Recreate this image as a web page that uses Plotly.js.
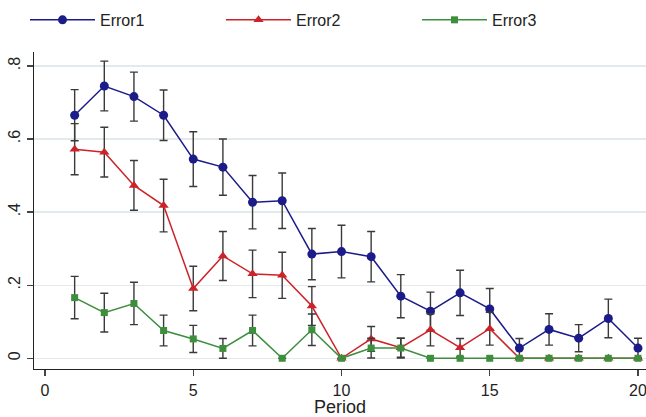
<!DOCTYPE html>
<html>
<head>
<meta charset="utf-8">
<script src="https://cdn.plot.ly/plotly-3.0.1.min.js"></script>
<style>html,body{margin:0;padding:0;background:#fff;overflow:hidden;}#wrap{width:646px;height:417px;overflow:hidden;}#chart{width:666px;height:417px;}</style>
</head>
<body>
<div id="wrap"><div id="chart"></div></div>
<script>
const periods = [1,2,3,4,5,6,7,8,9,10,11,12,13,14,15,16,17,18,19,20];
const error1 = [0.665,0.745,0.716,0.665,0.545,0.523,0.427,0.431,0.285,0.292,0.278,0.170,0.129,0.179,0.135,0.028,0.079,0.055,0.109,0.028];
const error1CI = [0.070,0.068,0.067,0.069,0.075,0.077,0.073,0.076,0.070,0.072,0.069,0.059,0.052,0.062,0.056,0.026,0.043,0.037,0.053,0.027];
const error2 = [0.572,0.564,0.473,0.418,0.191,0.280,0.231,0.227,0.143,0.000,0.053,0.029,0.078,0.029,0.081,0.000,0.000,0.000,0.000,0.000];
const error2CI = [0.070,0.068,0.068,0.072,0.061,0.067,0.065,0.063,0.053,null,0.034,0.026,0.044,0.025,0.045,null,null,null,null,null];
const error3 = [0.166,0.125,0.150,0.076,0.053,0.027,0.076,0.000,0.078,0.000,0.028,0.028,0.000,0.000,0.000,0.000,0.000,0.000,0.000,0.000];
const error3CI = [0.058,0.053,0.058,0.042,0.037,0.027,0.042,null,0.043,null,0.027,0.027,null,null,null,null,null,null,null,null];
const seriesNames = ['Error1','Error2','Error3'];
const xTicks = [0,5,10,15,20];
const yTickVals = [0,0.2,0.4,0.6,0.8];
const yTickText = ['0','.2','.4','.6','.8'];

const errStyle = (arr) => ({type:'data', array:arr, visible:true, color:'#3a3a3a', thickness:1.4, width:4});

const traces = [
  {x:periods, y:error1, name:seriesNames[0], type:'scatter', mode:'lines+markers',
   line:{color:'#1b1b8a', width:1.5}, marker:{symbol:'circle', size:9, color:'#1b1b8a'},
   error_y:errStyle(error1CI)},
  {x:periods, y:error2, name:seriesNames[1], type:'scatter', mode:'lines+markers',
   line:{color:'#cc2229', width:1.5}, marker:{symbol:'triangle-up', size:9, color:'#cc2229'},
   error_y:errStyle(error2CI)},
  {x:periods, y:error3, name:seriesNames[2], type:'scatter', mode:'lines+markers',
   line:{color:'#3d8f3d', width:1.5}, marker:{symbol:'square', size:7, color:'#3d8f3d'},
   error_y:errStyle(error3CI)}
];

const layout = {
  width:666, height:417,
  margin:{l:34, r:20, t:52, b:48},
  paper_bgcolor:'#ffffff', plot_bgcolor:'#ffffff',
  font:{family:'"Liberation Sans", Arial, sans-serif', size:16, color:'#222'},
  showlegend:true,
  legend:{orientation:'h', xref:'container', x:25/666, xanchor:'left', y:0.993, yanchor:'top', yref:'container',
          font:{size:16, color:'#222'}, itemwidth:65, entrywidth:116, traceorder:'normal',
          bgcolor:'rgba(0,0,0,0)'},
  xaxis:{range:[-0.371,20.27], tickvals:xTicks, ticktext:xTicks.map(String),
         showgrid:false, zeroline:false, showline:true, linecolor:'#222', linewidth:1.3,
         ticks:'outside', ticklen:6, tickcolor:'#444', tickwidth:1.3,
         tickfont:{size:16, color:'#222'},
         title:{text:'Period', font:{size:18, color:'#222'}, standoff:7}},
  yaxis:{range:[-0.0293,0.838], tickvals:yTickVals, ticktext:yTickText, tickangle:-90,
         showgrid:true, gridcolor:'#e3eaee', gridwidth:1.3, zeroline:false,
         showline:true, linecolor:'#222', linewidth:1.3,
         ticks:'outside', ticklen:6, tickcolor:'#444', tickwidth:1.3,
         tickfont:{size:16, color:'#222'}}
};

Plotly.newPlot('chart', traces, layout, {displayModeBar:false, staticPlot:true});
</script>
</body>
</html>
